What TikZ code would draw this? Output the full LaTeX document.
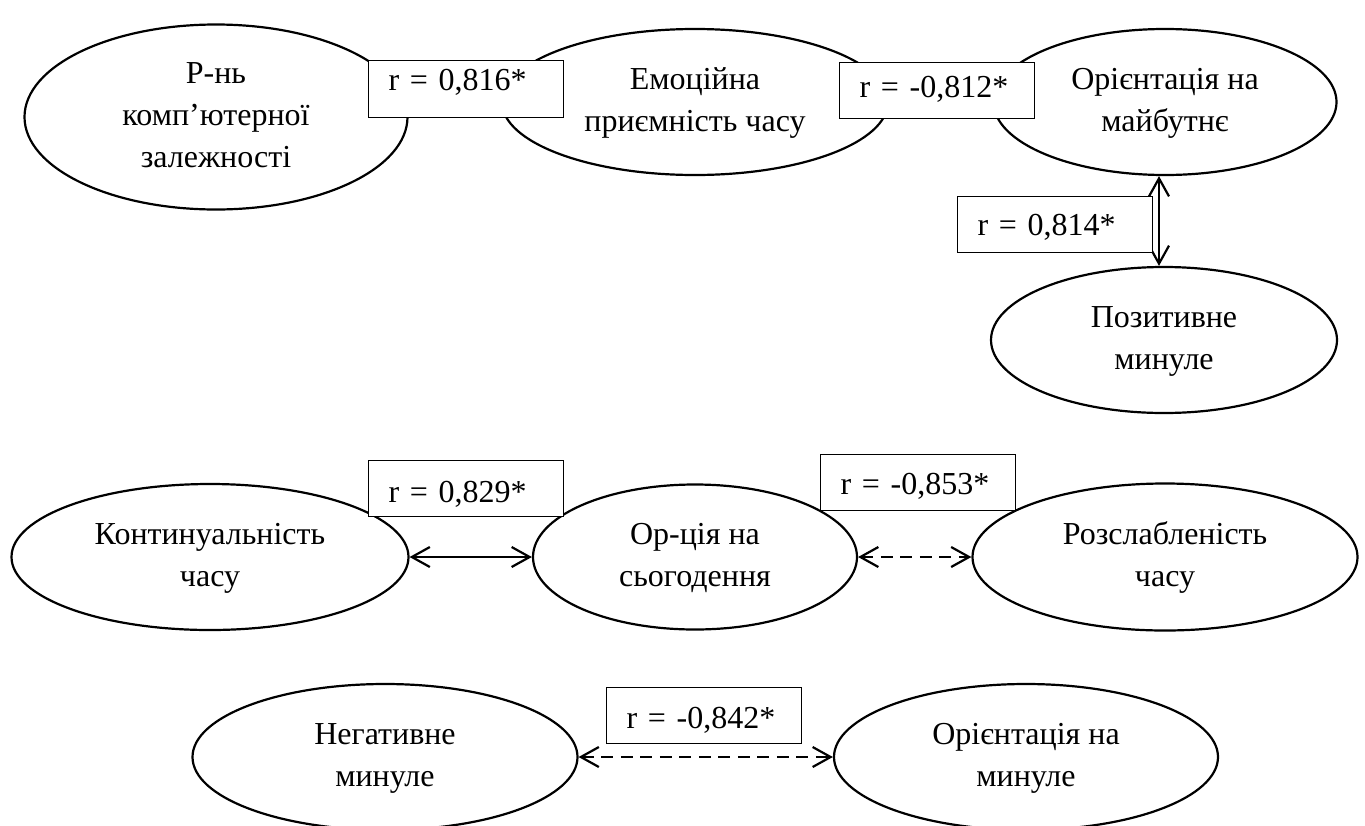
\documentclass[tikz,border=0pt]{standalone}
\usepackage{fontspec}
\setmainfont{Liberation Serif}
\usetikzlibrary{shapes.geometric,arrows.meta}
\begin{document}
\begin{tikzpicture}[x=0.5pt,y=-0.5pt,
  ell/.style={draw, ellipse, line width=1.1pt, inner sep=0pt, align=center, font=\fontsize{16pt}{21pt}\selectfont},
  rbox/.style={draw, fill=white, line width=0.6pt, rectangle, anchor=north west, inner xsep=10pt, inner ysep=0pt, text width=77.25pt, align=left, font=\fontsize{16pt}{21pt}\selectfont},
  conn/.style={line width=1.1pt, {Straight Barb[length=9pt,width=10pt]}-{Straight Barb[length=9pt,width=10pt]}},
  dconn/.style={conn, dash pattern=on 6pt off 3.75pt}]
\clip (0,0) rectangle (1365,825);

% ellipses
\node[ell, minimum width=191.5pt, minimum height=92.5pt] (E1) at (216,117) {\strut Р-нь\\\strut комп’ютерної\\\strut залежності};
\node[ell, minimum width=193pt, minimum height=73pt] (E2) at (695,102) {\strut Емоційна\\\strut приємність часу};
\node[ell, minimum width=171.5pt, minimum height=73pt] (E3) at (1165,102) {\strut Орієнтація на\\\strut майбутнє};
\node[ell, minimum width=173pt, minimum height=73pt] (E4) at (1164,340) {\strut Позитивне\\\strut минуле};
\node[ell, minimum width=198.5pt, minimum height=73pt] (E5) at (210,557) {\strut Континуальність\\\strut часу};
\node[ell, minimum width=162pt, minimum height=72.5pt] (E6) at (695,557) {\strut Ор-ція на\\\strut сьогодення};
\node[ell, minimum width=192.5pt, minimum height=73.5pt] (E7) at (1165,557) {\strut Розслабленість\\\strut часу};
\node[ell, minimum width=192.5pt, minimum height=73pt] (E8) at (385,757) {\strut Негативне\\\strut минуле};
\node[ell, minimum width=192pt, minimum height=73pt] (E9) at (1026,757) {\strut Орієнтація на\\\strut минуле};

% connectors
\draw[conn] (E5.east) -- (E6.west);
\draw[dconn] (E6.east) -- (E7.west);
\draw[dconn] (E8.east) -- (E9.west);
\draw[conn] ([xshift=-3pt]E3.south) -- ([xshift=-2.5pt]E4.north);

% correlation boxes
\node[rbox, text height=15pt, text depth=13.5pt] (B1) at (368,60) {r = 0,816*};
\node[rbox, text height=17.5pt, text depth=10.5pt] (B2) at (839,62) {r = -0,812*};
\node[rbox, text height=19.5pt, text depth=8.5pt] (B3) at (957,196) {r = 0,814*};
\node[rbox, text height=21pt, text depth=7pt] (B4) at (368,460) {r = 0,829*};
\node[rbox, text height=20pt, text depth=8pt] (B5) at (820,454) {r = -0,853*};
\node[rbox, text height=20.5pt, text depth=7.5pt] (B6) at (606,687) {r = -0,842*};
\end{tikzpicture}
\end{document}
